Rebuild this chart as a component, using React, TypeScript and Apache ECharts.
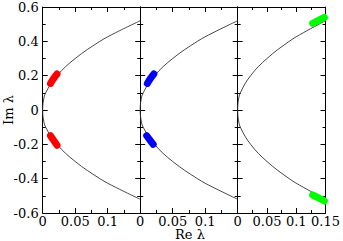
import React, { useEffect, useRef } from "react";
import * as echarts from "echarts";

// Curve: Re and Im parts
const curveIm = [-0.52, -0.45, -0.4, -0.3, -0.2, -0.1, -0.05, 0, 0.05, 0.1, 0.2, 0.3, 0.4, 0.45, 0.52];
const curveRe = [0.15, 0.112, 0.088, 0.05, 0.022, 0.0045, 0.001, 0, 0.001, 0.0045, 0.022, 0.05, 0.088, 0.112, 0.15];

// Highlighted segments per panel
const redUpperRe = [0.012, 0.017, 0.022];
const redUpperIm = [0.155, 0.185, 0.21];
const redLowerRe = [0.012, 0.017, 0.022];
const redLowerIm = [-0.15, -0.178, -0.205];
const blueUpperRe = [0.011, 0.016, 0.021];
const blueUpperIm = [0.155, 0.185, 0.21];
const blueLowerRe = [0.01, 0.015, 0.02];
const blueLowerIm = [-0.15, -0.175, -0.2];
const greenUpperRe = [0.128, 0.138, 0.148];
const greenUpperIm = [0.505, 0.522, 0.54];
const greenLowerRe = [0.128, 0.138, 0.148];
const greenLowerIm = [-0.495, -0.512, -0.53];

const xTickValues = [0, 0.05, 0.1, 0.15];
const xTickLabels = ["0", "0.05", "0.1", "0.15"];
const yTickValues = [-0.6, -0.4, -0.2, 0, 0.2, 0.4, 0.6];
const yTickLabels = ["-0.6", "-0.4", "-0.2", "0", "0.2", "0.4", "0.6"];

const zip = (xs: number[], ys: number[]) => xs.map((x, i) => [x, ys[i]]);

export default function App() {
  const ref = useRef<HTMLDivElement>(null);
  useEffect(() => {
    document.body.style.margin = "0";
    const chart = echarts.init(ref.current!, null, { renderer: "svg" });
    const font = "DejaVu Serif";
    const left0 = 42.7;
    const pw = 97.5;
    const top = 7;
    const h = 206;
    const grids = [0, 1, 2].map((i) => ({ left: left0 + i * pw, top, width: pw, height: h }));
    const tickCommon = {
      axisLine: { show: true, onZero: false, lineStyle: { color: "#000", width: 1 } },
      axisTick: { show: true, inside: true, length: 5, lineStyle: { color: "#000", width: 1 } },
      minorTick: { show: true, splitNumber: 2, length: 3, lineStyle: { color: "#000", width: 1 } },
      splitLine: { show: false },
      minorSplitLine: { show: false },
    };
    const xFmt = (panel: number) => (v: number) => {
      const idx = xTickValues.findIndex((t) => Math.abs(t - v) < 1e-9);
      if (idx < 0) return "";
      if (panel < 2 && idx === xTickValues.length - 1) return "";
      return xTickLabels[idx];
    };
    const yFmt = (v: number) => {
      const idx = yTickValues.findIndex((t) => Math.abs(t - v) < 1e-9);
      return idx < 0 ? "" : yTickLabels[idx];
    };
    const xAxes: any[] = [];
    const yAxes: any[] = [];
    [0, 1, 2].forEach((i) => {
      xAxes.push({
        type: "value", gridIndex: i, position: "bottom", min: 0, max: 0.15, interval: 0.05,
        ...tickCommon,
        axisLabel: { show: true, formatter: xFmt(i), color: "#000", fontFamily: font, fontSize: 13, lineHeight: 12, margin: 2, showMaxLabel: true, showMinLabel: true },
      });
      xAxes.push({
        type: "value", gridIndex: i, position: "top", min: 0, max: 0.15, interval: 0.05,
        ...tickCommon, axisLabel: { show: false },
      });
      yAxes.push({
        type: "value", gridIndex: i, position: "left", min: -0.6, max: 0.6, interval: 0.2,
        ...tickCommon,
        axisLabel: { show: i === 0, formatter: yFmt, color: "#000", fontFamily: font, fontSize: 13, margin: 4 },
      });
      yAxes.push({
        type: "value", gridIndex: i, position: "right", min: -0.6, max: 0.6, interval: 0.2,
        ...tickCommon, axisLabel: { show: false },
      });
    });
    const curve = zip(curveRe, curveIm);
    const series: any[] = [];
    const blobs = [
      { color: "#ff0000", segs: [zip(redUpperRe, redUpperIm), zip(redLowerRe, redLowerIm)] },
      { color: "#0000ff", segs: [zip(blueUpperRe, blueUpperIm), zip(blueLowerRe, blueLowerIm)] },
      { color: "#00ff00", segs: [zip(greenUpperRe, greenUpperIm), zip(greenLowerRe, greenLowerIm)] },
    ];
    [0, 1, 2].forEach((i) => {
      series.push({
        type: "line", xAxisIndex: i * 2, yAxisIndex: i * 2, data: curve, smooth: 0.4,
        showSymbol: false, symbol: "none", lineStyle: { color: "#333", width: 0.9 }, z: 2,
      });
      blobs[i].segs.forEach((seg) => {
        series.push({
          type: "line", xAxisIndex: i * 2, yAxisIndex: i * 2, data: seg, smooth: true,
          showSymbol: false, symbol: "none", lineStyle: { color: blobs[i].color, width: 7, cap: "round" }, z: 3,
        });
      });
    });
    chart.setOption({
      animation: false,
      grid: grids,
      xAxis: xAxes,
      yAxis: yAxes,
      series,
      graphic: [
        { type: "text", x: 190, y: 234, style: { text: "Re λ", fontFamily: font, fontSize: 13, lineHeight: 12, fill: "#000", align: "center", verticalAlign: "middle" } },
        { type: "text", x: 8, y: 110, rotation: Math.PI / 2, style: { text: "Im λ", fontFamily: font, fontSize: 13, fill: "#000", align: "center", verticalAlign: "middle" } },
      ],
    });
    return () => chart.dispose();
  }, []);
  return <div ref={ref} style={{ width: 343, height: 241 }} />;
}
